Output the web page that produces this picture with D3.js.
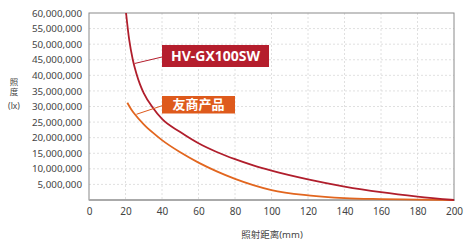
<!DOCTYPE html>
<html>
<head>
<meta charset="utf-8">
<script src="https://cdn.jsdelivr.net/npm/d3@7"></script>
<style>
  body { margin: 0; background: #fff; }
  text { font-family: "Noto Sans", "Noto Sans CJK SC", sans-serif; }
</style>
</head>
<body>
<svg id="chart" width="464" height="240"></svg>
<script>
// distance (mm) vs illuminance (lx)
var redX   = [20.3, 22, 24, 26, 28, 30, 35, 40, 50, 60, 70, 80, 90, 100, 120, 140, 160, 180, 200];
var redY   = [60e6, 51.5e6, 45e6, 40.5e6, 37e6, 34.3e6, 29.6e6, 26e6, 21.8e6, 18.2e6, 15.4e6, 13.1e6, 11.1e6, 9.4e6, 6.6e6, 4.3e6, 2.5e6, 1.1e6, 0];
var orangeX = [21, 23, 25, 30, 35, 40, 50, 60, 70, 80, 90, 100, 120, 140, 160, 180, 200];
var orangeY = [31.2e6, 29.2e6, 27.6e6, 24.3e6, 21.6e6, 19.2e6, 15.3e6, 12e6, 9.2e6, 6.8e6, 4.8e6, 3.2e6, 1.5e6, 0.6e6, 0.3e6, 0.15e6, 0];
var xTicks = [0, 20, 40, 60, 80, 100, 120, 140, 160, 180, 200];
var yTicks = [5e6, 10e6, 15e6, 20e6, 25e6, 30e6, 35e6, 40e6, 45e6, 50e6, 55e6, 60e6];
var seriesNames = ["HV-GX100SW", "友商产品"];

var svg = d3.select("#chart");
var mL = 89, mR = 454, mT = 13, mB = 200;

var x = d3.scaleLinear().domain([0, 200]).range([mL, mR]);
var y = d3.scaleLinear().domain([0, 60e6]).range([mB, mT]);

// grid
svg.append("g").selectAll("line").data(xTicks.slice(1, -1)).enter().append("line")
  .attr("x1", d => x(d)).attr("x2", d => x(d)).attr("y1", mT).attr("y2", mB)
  .attr("stroke", "#d8d8d8").attr("stroke-dasharray", "2,2").attr("stroke-width", 0.8);
svg.append("g").selectAll("line").data(yTicks.slice(0, -1)).enter().append("line")
  .attr("x1", mL).attr("x2", mR).attr("y1", d => y(d)).attr("y2", d => y(d))
  .attr("stroke", "#d8d8d8").attr("stroke-dasharray", "2,2").attr("stroke-width", 0.8);

// frame
svg.append("rect").attr("x", mL).attr("y", mT).attr("width", mR - mL).attr("height", mB - mT)
  .attr("fill", "none").attr("stroke", "#8a8a8a").attr("stroke-width", 1);
svg.append("line").attr("x1", mL).attr("x2", mR + 1).attr("y1", mB).attr("y2", mB)
  .attr("stroke", "#aaa").attr("stroke-width", 2);

// axes
var xAxis = svg.append("g").attr("transform", "translate(0," + mB + ")")
  .call(d3.axisBottom(x).tickValues(xTicks).tickSize(0).tickPadding(8));
xAxis.select(".domain").remove();
xAxis.selectAll("text").attr("font-size", 10).attr("fill", "#444");

var yAxis = svg.append("g").attr("transform", "translate(" + mL + ",0)")
  .call(d3.axisLeft(y).tickValues(yTicks).tickSize(0).tickPadding(7).tickFormat(d3.format(",")));
yAxis.select(".domain").remove();
yAxis.selectAll("text").attr("font-size", 9.8).attr("fill", "#444");

// axis titles
var yTitle = ["照", "度", "(lx)"], yTitleY = [84.5, 95, 109];
svg.append("g").selectAll("text").data(yTitle).enter().append("text")
  .attr("x", 14).attr("y", (d, i) => yTitleY[i]).attr("text-anchor", "middle")
  .attr("font-size", 8.5).attr("fill", "#444").text(d => d);
svg.append("text").attr("x", 272).attr("y", 238).attr("text-anchor", "middle")
  .attr("font-size", 9.5).attr("fill", "#444").text("照射距离(mm)");

// curves
var line = d3.line().curve(d3.curveMonotoneX);
svg.append("path")
  .attr("d", line(orangeX.map((d, i) => [x(d), y(orangeY[i])])))
  .attr("fill", "none").attr("stroke", "#e2661f").attr("stroke-width", 1.8);
svg.append("path")
  .attr("d", line(redX.map((d, i) => [x(d), y(redY[i])])))
  .attr("fill", "none").attr("stroke", "#b01e2c").attr("stroke-width", 1.8);

// labels
function label(name, color, bx, by, bw, bh, fs, px, pyv) {
  svg.append("line").attr("x1", x(px)).attr("y1", y(pyv)).attr("x2", bx).attr("y2", by + bh / 2 + 1)
    .attr("stroke", color).attr("stroke-width", 1);
  svg.append("rect").attr("x", bx).attr("y", by).attr("width", bw).attr("height", bh).attr("fill", color);
  svg.append("text").attr("x", bx + bw / 2).attr("y", by + bh / 2 + fs * 0.36)
    .attr("text-anchor", "middle").attr("font-size", fs).attr("font-weight", "bold")
    .attr("fill", "#fff").text(name);
}
label(seriesNames[0], "#b51e2d", 162, 45, 107, 22, 14, 25, 43.8e6);
label(seriesNames[1], "#de5a1c", 162, 96, 73, 17.5, 13, 26, 27.5e6);
</script>
</body>
</html>
